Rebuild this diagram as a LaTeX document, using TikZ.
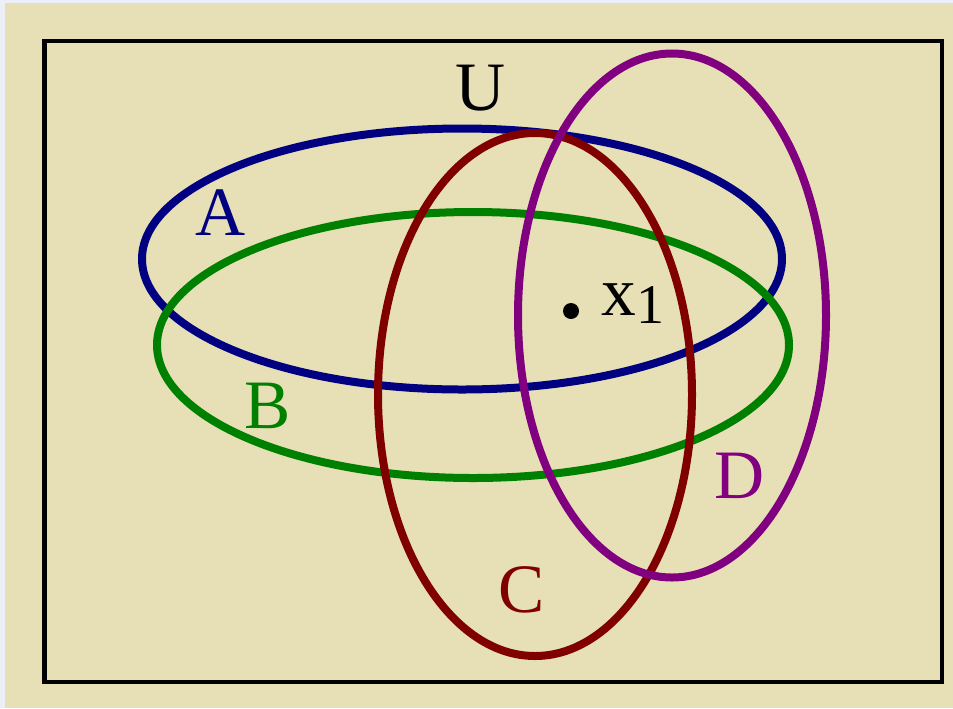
\documentclass[tikz,border=0pt]{standalone}
\usepackage{fontspec}
\newfontfamily\lserif{Liberation Serif}
\definecolor{bgbeige}{RGB}{231,224,183}
\definecolor{edgelight}{RGB}{236,238,248}
\definecolor{setA}{RGB}{0,0,128}
\definecolor{setB}{RGB}{0,128,0}
\definecolor{setC}{RGB}{128,0,0}
\definecolor{setD}{RGB}{128,0,128}
\tikzset{
  setline/.style={line width=6pt},
  lbl/.style={inner sep=0pt, anchor=base, font=\lserif\fontsize{52}{56}\selectfont},
  sublbl/.style={inner sep=0pt, anchor=base, font=\lserif\fontsize{42}{46}\selectfont}
}
\begin{document}
\begin{tikzpicture}[x=0.75pt,y=-0.75pt]
\useasboundingbox (0,0) rectangle (953,708);
\fill[edgelight] (0,0) rectangle (953,708);
\fill[bgbeige] (5,3) rectangle (953,708);
\draw[line width=3.5pt] (44.5,41) rectangle (942,682);
% sets
\draw[setline, setA] (462,259) ellipse [x radius=320, y radius=130.5];
\draw[setline, setB] (473,345) ellipse [x radius=316, y radius=133];
\draw[setline, setC] (535,394.5) ellipse [x radius=157, y radius=261.5];
\draw[setline, setD] (672,315.5) ellipse [x radius=154, y radius=262];
% labels
\node[lbl] (U) at (481,110) {U};
\node[lbl, text=setA] (lA) at (221,235) {A};
\node[lbl, text=setB] (lB) at (268,428) {B};
\node[lbl, text=setC] (lC) at (522,612) {C};
\node[lbl, text=setD] (lD) at (740,498) {D};
\node[circle, fill=black, inner sep=0pt, minimum size=12pt] (dot) at (571,311) {};
\node[lbl] (x) at (619,315) {x};
\node[sublbl] (one) at (650,323) {1};
\end{tikzpicture}
\end{document}
